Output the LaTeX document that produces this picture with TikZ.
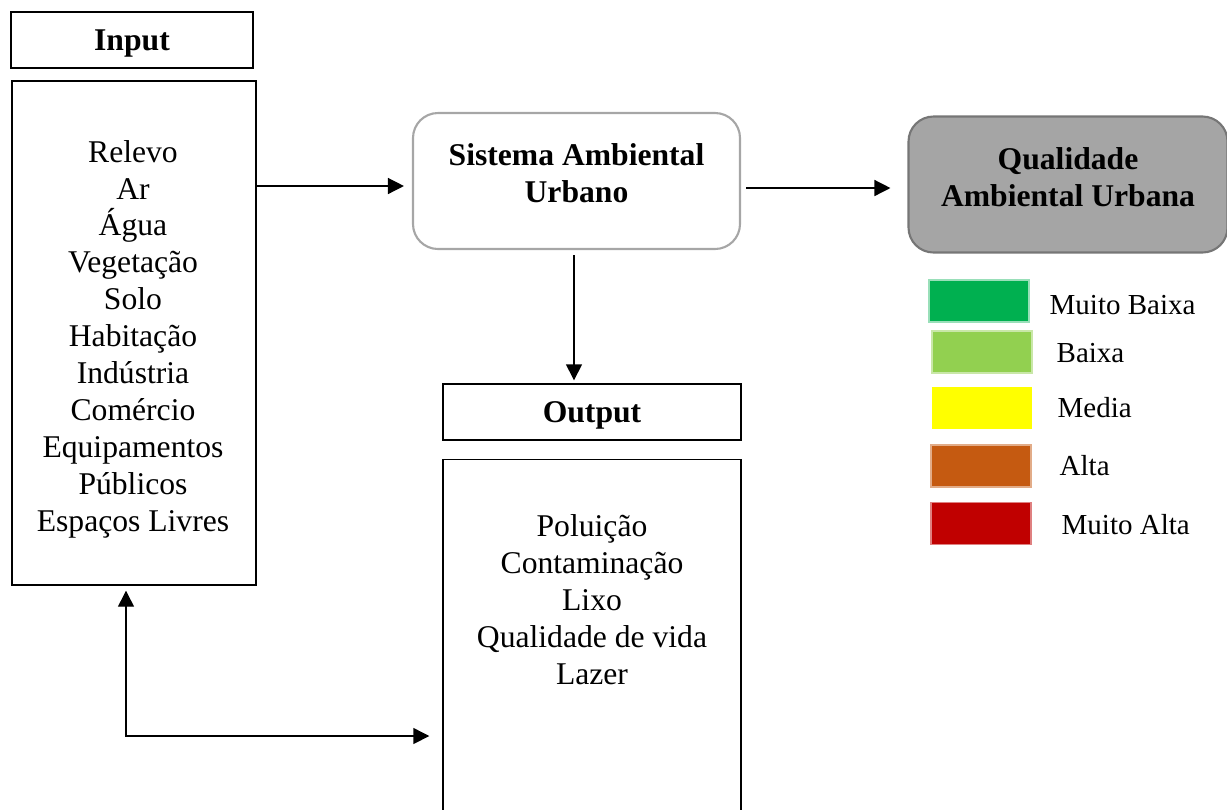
\documentclass[tikz,border=0pt]{standalone}
\usepackage{fontspec}
\setmainfont{Liberation Serif}
\usetikzlibrary{arrows.meta,positioning}
\definecolor{sisgray}{RGB}{166,166,166}
\definecolor{qualfill}{RGB}{165,165,165}
\definecolor{qualdraw}{RGB}{118,118,118}
\definecolor{mbaixa}{RGB}{0,176,80}
\definecolor{baixa}{RGB}{146,208,80}
\definecolor{media}{RGB}{255,255,0}
\definecolor{alta}{RGB}{197,90,17}
\definecolor{malta}{RGB}{192,0,0}
\tikzstyle{head}=[draw,line width=0.8pt,minimum height=1.12cm,text depth=0pt,
  font=\fontsize{18}{21}\selectfont\bfseries]
\tikzstyle{listbox}=[draw,line width=0.8pt,align=center,
  font=\fontsize{18}{21}\selectfont]
\tikzstyle{sysbox}=[draw=sisgray,line width=1.2pt,rounded corners=0.5cm,
  minimum height=2.72cm,align=center,
  font=\fontsize{18}{21}\selectfont\bfseries]
\tikzstyle{swatch}=[minimum width=2cm,minimum height=0.84cm,inner sep=0pt]
\tikzstyle{legtext}=[anchor=west,inner sep=0pt,
  font=\fontsize{16.5}{19}\selectfont]

\begin{document}
\begin{tikzpicture}[>={Triangle[length=3.2mm,width=3.2mm]}, line width=0.8pt]
  \useasboundingbox (0,0) rectangle (24.54,-16.18);

  % input side
  \node[head, minimum width=4.84cm] (inhead) at (2.64,-0.80) {Input};
  \node[listbox, minimum width=4.88cm, minimum height=10.08cm] (inbox) at (2.68,-6.66) {};
  \node[listbox, draw=none, inner sep=0pt] (inlist) at (2.66,-6.78)
    {Relevo\\Ar\\Água\\Vegetação\\Solo\\Habitação\\Indústria\\Comércio\\Equipamentos\\Públicos\\Espaços Livres};

  % system and quality
  \node[sysbox, minimum width=6.54cm] (sis) at (11.53,-3.62)
    {Sistema Ambiental\\Urbano\\[-12pt]};
  \node[sysbox, draw=qualdraw, fill=qualfill, minimum width=6.38cm] (qual) at (21.36,-3.69)
    {Qualidade\\Ambiental Urbana\\[-12pt]};

  % output side
  \node[head, minimum width=5.96cm] (outhead) at (11.84,-8.24) {Output};
  \node[listbox, minimum width=5.96cm, minimum height=7.6cm, anchor=north] (outbox) at (11.84,-9.18) {};
  \node[listbox, draw=none, inner sep=0pt, anchor=north] (outlist) at (11.84,-10.28)
    {Poluição\\Contaminação\\Lixo\\Qualidade de vida\\Lazer};

  % legend
  \node[swatch, fill=mbaixa, draw=mbaixa!40] (sw1) at (19.58,-6.02) {};
  \node[swatch, fill=baixa, draw=baixa!50, right=0.06cm of sw1.east, anchor=east, yshift=-1.02cm] (sw2) {};
  \node[swatch, fill=media, below=0.26cm of sw2] (sw3) {};
  \node[swatch, fill=alta, draw=alta!50, below=0.28cm of sw3, xshift=-0.02cm] (sw4) {};
  \node[swatch, fill=malta, draw=malta!50, below=0.28cm of sw4] (sw5) {};
  \node[legtext] (l1) at (20.98,-6.10) {Muito Baixa};
  \node[legtext] (l2) at (21.12,-7.06) {Baixa};
  \node[legtext] (l3) at (21.14,-8.16) {Media};
  \node[legtext] (l4) at (21.18,-9.32) {Alta};
  \node[legtext] (l5) at (21.22,-10.50) {Muito Alta};

  % connectors
  \coordinate (back) at (2.52,-14.72);
  \draw[->, shorten >=0.16cm] ([yshift=-1mm]inbox.east |- sis.west) -- ([yshift=-1mm]sis.west);
  \draw[->, shorten <=0.1cm, shorten >=0.34cm] ([yshift=-0.7mm]sis.east |- qual.west) -- ([yshift=-0.7mm]qual.west);
  \draw[->, shorten <=0.1cm, shorten >=0.06cm] ([xshift=-0.05cm]sis.south) -- ([xshift=-0.05cm]sis.south |- outhead.north);
  \draw[<->, shorten <=0.1cm, shorten >=0.26cm] (back |- inbox.south) -- (back) -- (back -| outbox.west);
\end{tikzpicture}
\end{document}
